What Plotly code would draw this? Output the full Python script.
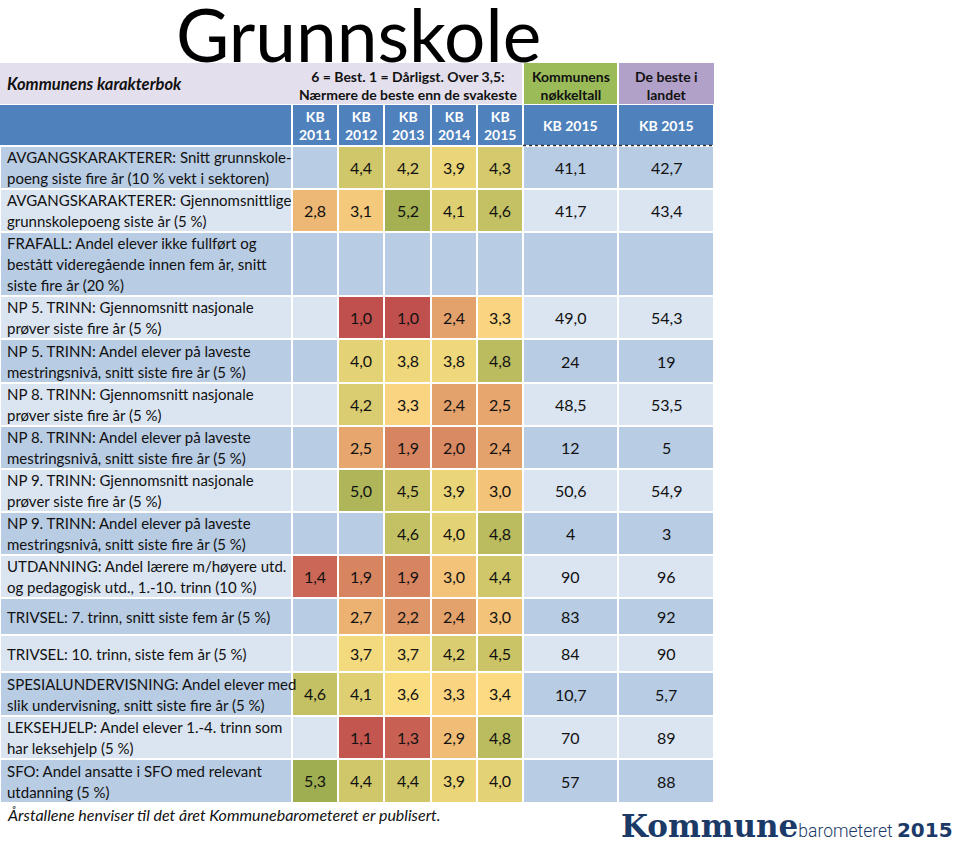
import plotly.graph_objects as go

# ---------------- data ----------------
labels = [
    "AVGANGSKARAKTERER: Snitt grunnskole-<br>poeng siste fire år (10 % vekt i sektoren)",
    "AVGANGSKARAKTERER: Gjennomsnittlige<br>grunnskolepoeng siste år (5 %)",
    "FRAFALL: Andel elever ikke fullført og<br>bestått videregående innen fem år, snitt<br>siste fire år (20 %)",
    "NP 5. TRINN: Gjennomsnitt nasjonale<br>prøver siste fire år (5 %)",
    "NP 5. TRINN: Andel elever på laveste<br>mestringsnivå, snitt siste fire år (5 %)",
    "NP 8. TRINN: Gjennomsnitt nasjonale<br>prøver siste fire år (5 %)",
    "NP 8. TRINN: Andel elever på laveste<br>mestringsnivå, snitt siste fire år (5 %)",
    "NP 9. TRINN: Gjennomsnitt nasjonale<br>prøver siste fire år (5 %)",
    "NP 9. TRINN: Andel elever på laveste<br>mestringsnivå, snitt siste fire år (5 %)",
    "UTDANNING: Andel lærere m/høyere utd.<br>og pedagogisk utd., 1.-10. trinn (10 %)",
    "TRIVSEL: 7. trinn, snitt siste fem år (5 %)",
    "TRIVSEL: 10. trinn, siste fem år (5 %)",
    "SPESIALUNDERVISNING: Andel elever med<br>slik undervisning, snitt siste fire år (5 %)",
    "LEKSEHJELP: Andel elever 1.-4. trinn som<br>har leksehjelp (5 %)",
    "SFO: Andel ansatte i SFO med relevant<br>utdanning (5 %)",
]
years = ["KB<br>2011", "KB<br>2012", "KB<br>2013", "KB<br>2014", "KB<br>2015"]
kb2011 = [None, 2.8, None, None, None, None, None, None, None, 1.4, None, None, 4.6, None, 5.3]
kb2012 = [4.4, 3.1, None, 1.0, 4.0, 4.2, 2.5, 5.0, None, 1.9, 2.7, 3.7, 4.1, 1.1, 4.4]
kb2013 = [4.2, 5.2, None, 1.0, 3.8, 3.3, 1.9, 4.5, 4.6, 1.9, 2.2, 3.7, 3.6, 1.3, 4.4]
kb2014 = [3.9, 4.1, None, 2.4, 3.8, 2.4, 2.0, 3.9, 4.0, 3.0, 2.4, 4.2, 3.3, 2.9, 3.9]
kb2015 = [4.3, 4.6, None, 3.3, 4.8, 2.5, 2.4, 3.0, 4.8, 4.4, 3.0, 4.5, 3.4, 4.8, 4.0]
kommunens = ["41,1", "41,7", "", "49,0", "24", "48,5", "12", "50,6", "4", "90", "83", "84", "10,7", "70", "57"]
beste = ["42,7", "43,4", "", "54,3", "19", "53,5", "5", "54,9", "3", "96", "92", "90", "5,7", "89", "88"]

# ---------------- geometry ----------------
col_edges = [0, 292, 338, 384, 431, 477, 523, 618, 714]
header_edges = [63, 105, 146]
row_heights = [43, 43, 64, 43, 44, 43, 43, 43, 43, 43, 37, 37, 44, 43, 44]
row_edges = [header_edges[-1]]
for h in row_heights:
    row_edges.append(row_edges[-1] + h)
row_mid = [(row_edges[i] + row_edges[i + 1]) / 2 for i in range(len(row_heights))]
col_mid = [(col_edges[i] + col_edges[i + 1]) / 2 for i in range(len(col_edges) - 1)]
LINE_GAP = 21

FONT = "Lato, Carlito, Open Sans, sans-serif"
TXT = "#111111"
DARK_ROW, LIGHT_ROW = "#b8cce4", "#dbe5f1"
BLUE = "#4f81bd"

fig = go.Figure()

# background stripes (all columns)
nrows = len(labels)
ncols = len(col_edges) - 1
bg_z = [[i % 2] * ncols for i in range(nrows)]
fig.add_trace(go.Heatmap(
    x=col_edges, y=row_edges, z=bg_z,
    colorscale=[[0, DARK_ROW], [1, LIGHT_ROW]], zmin=0, zmax=1,
    showscale=False, xgap=2, ygap=2, hoverinfo="skip",
))

# grade cells
grades = [kb2011, kb2012, kb2013, kb2014, kb2015]
gz = [[grades[c][r] for c in range(5)] for r in range(nrows)]
gt = [["" if v is None else f"{v:.1f}".replace(".", ",") for v in row] for row in gz]
fig.add_trace(go.Heatmap(
    x=col_edges[1:7], y=row_edges, z=gz, text=gt, texttemplate="%{text}",
    textfont=dict(family=FONT, size=16, color=TXT),
    colorscale=[[0, "#c0504d"], [0.5, "#ffe084"], [1, "#7a9a3c"]], zmin=1, zmax=6,
    showscale=False, xgap=2, ygap=2, hoverinfo="skip",
))

shapes = []
annotations = []

def rect(x0, x1, y0, y1, color):
    shapes.append(dict(type="rect", xref="x", yref="y", x0=x0, x1=x1, y0=y0, y1=y1,
                       fillcolor=color, line=dict(width=0), layer="below"))

# header row 1
h0, h1, h2 = header_edges
rect(col_edges[0], col_edges[6] - 1, h0, h1 - 1, "#e4dfec")
rect(col_edges[6] + 1, col_edges[7] - 1, h0, h1 - 1, "#9bbb59")
rect(col_edges[7] + 1, col_edges[8], h0, h1 - 1, "#b1a0c7")
# header row 2
for i in range(ncols):
    x0 = col_edges[i] + (1 if i > 0 else 0)
    x1 = col_edges[i + 1] - 1
    rect(x0, x1, h1, h2 - 1, BLUE)
# dotted line under right header columns
shapes.append(dict(type="line", xref="x", yref="y", x0=col_edges[6], x1=col_edges[8],
                   y0=h2 - 0.5, y1=h2 - 0.5, line=dict(color="#333333", width=1.5, dash="dot")))

# title
annotations.append(dict(x=358, y=34, xref="x", yref="y", text="Grunnskole", showarrow=False,
                        font=dict(family=FONT, size=73, color="#000000"), xanchor="center", yanchor="middle"))
# header texts
annotations.append(dict(x=5, y=(h0 + h1) / 2, xref="x", yref="y", text="<b><i>Kommunens karakterbok</i></b>",
                        showarrow=False, xanchor="left", yanchor="middle",
                        font=dict(family=FONT, size=16.5, color=TXT)))
annotations.append(dict(x=(col_edges[1] + col_edges[6]) / 2, y=(h0 + h1) / 2 + 1, xref="x", yref="y",
                        text="<b>6 = Best. 1 = Dårligst. Over 3,5:<br>Nærmere de beste enn de svakeste</b>",
                        showarrow=False, xanchor="center", yanchor="middle",
                        font=dict(family=FONT, size=14, color=TXT)))
annotations.append(dict(x=col_mid[6], y=(h0 + h1) / 2 + 1, xref="x", yref="y",
                        text="<b>Kommunens<br>nøkkeltall</b>", showarrow=False,
                        font=dict(family=FONT, size=14, color=TXT)))
annotations.append(dict(x=col_mid[7], y=(h0 + h1) / 2 + 1, xref="x", yref="y",
                        text="<b>De beste i<br>landet</b>", showarrow=False,
                        font=dict(family=FONT, size=14, color=TXT)))
for i, yl in enumerate(years):
    annotations.append(dict(x=col_mid[i + 1], y=(h1 + h2) / 2, xref="x", yref="y", text=f"<b>{yl}</b>",
                            showarrow=False, font=dict(family=FONT, size=14, color="white")))
for c in (6, 7):
    annotations.append(dict(x=col_mid[c], y=(h1 + h2) / 2, xref="x", yref="y", text="<b>KB 2015</b>",
                            showarrow=False, font=dict(family=FONT, size=14, color="white")))

# row labels (one annotation per line, for the wider line spacing) and key figures
for r in range(nrows):
    lines = labels[r].split("<br>")
    n = len(lines)
    for k, line in enumerate(lines):
        annotations.append(dict(x=5, y=row_mid[r] + (k - (n - 1) / 2) * LINE_GAP, xref="x", yref="y",
                                text=line, showarrow=False, xanchor="left", yanchor="middle", align="left",
                                font=dict(family=FONT, size=15, color=TXT)))
    for c, vals in ((6, kommunens), (7, beste)):
        if vals[r]:
            annotations.append(dict(x=col_mid[c], y=row_mid[r], xref="x", yref="y", text=vals[r],
                                    showarrow=False, font=dict(family=FONT, size=16, color=TXT)))

# footer
annotations.append(dict(x=5, y=row_edges[-1] + 11, xref="x", yref="y",
                        text="<i>Årstallene henviser til det året Kommunebarometeret er publisert.</i>",
                        showarrow=False, xanchor="left", yanchor="middle",
                        font=dict(family=FONT, size=16, color=TXT)))
annotations.append(dict(x=955, y=826, xref="x", yref="y",
                        text="<span style='font-family:DejaVu Serif;font-weight:bold;font-size:31px'>Kommune</span>"
                             "<span style='font-family:Roboto;font-weight:300;font-size:17.5px'>barometeret </span>"
                             "<span style='font-family:DejaVu Sans;font-weight:bold;font-size:20px'>2015</span>",
                        showarrow=False, xanchor="right", yanchor="middle",
                        font=dict(family="DejaVu Serif", size=18, color="#1c3a68")))

fig.update_layout(
    width=960, height=845, autosize=False,
    margin=dict(l=0, r=0, t=0, b=0),
    paper_bgcolor="white", plot_bgcolor="white",
    xaxis=dict(range=[0, 960], visible=False, fixedrange=True),
    yaxis=dict(range=[845, 0], visible=False, fixedrange=True),
    shapes=shapes, annotations=annotations, showlegend=False,
)

fig.write_html("out.html", config={"displayModeBar": False},
               post_script="document.body.style.margin='0';")
